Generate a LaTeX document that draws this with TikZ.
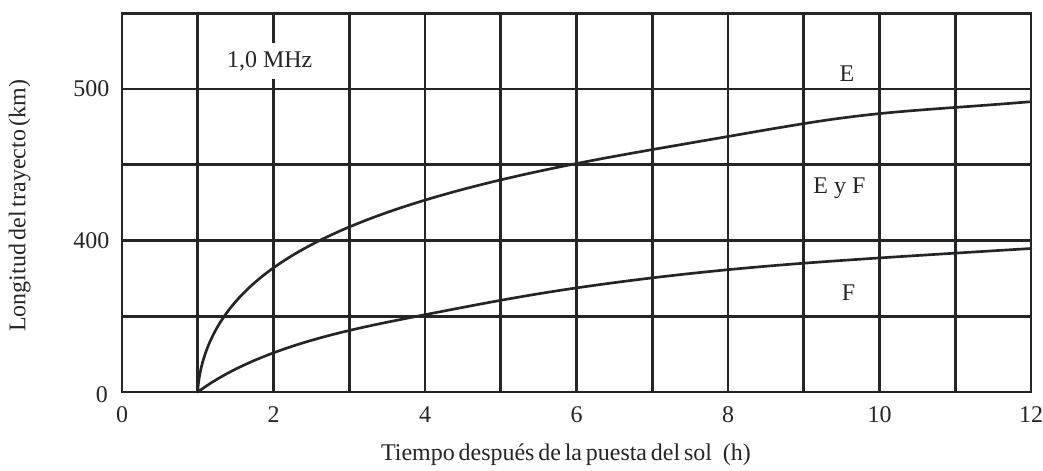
\documentclass[tikz,border=0pt]{standalone}
\usepackage{fontspec}
\setmainfont{Liberation Serif}
\begin{document}
\begin{tikzpicture}[x=1cm,y=1cm,
  font=\fontsize{9pt}{11pt}\selectfont,
  gridline/.style={draw=ink,line width=1pt},
  curveline/.style={draw=ink,line width=1pt,line cap=round,line join=round},
  lbl/.style={text=ink,inner sep=0pt},
  ytick/.style={lbl,anchor=east},
  xtick/.style={lbl,anchor=center},
  tight/.style={lbl,execute at begin node={\spaceskip=0.16em plus 0.05em\relax}}]
\definecolor{ink}{RGB}{35,37,39}
\useasboundingbox (-1.611,-1.030) rectangle (12.158,5.175);
% grid
\draw[gridline] (0,0) grid (12,5);
\draw[gridline] (0,0) rectangle (12,5);
% curve E
\coordinate (start) at (1,0);
\draw[curveline] (start) -- plot[domain=0.01:2.22398,samples=160,variable=\u]
  ({1+\u*\u*\u},{1.891*ln(1+1.38*pow(\u,1.95))+0.065*exp(0-pow((\u*\u*\u-8.7)/1.6,2))});
% curve F
\draw[curveline] (start) -- plot[domain=0:11,samples=120,variable=\t]
  ({1+\t},{0.773*ln(1+0.96*\t)+0.035*exp(0-pow((\t-7)/2.5,2))-0.03*exp(0-pow((\t-3)/1.3,2))});
% labels
\node[lbl,fill=white,inner xsep=2pt,inner ysep=3pt] (freq) at (1.95,4.37) {1,0 MHz};
\node[lbl] (lE) at (9.57,4.2) {E};
\node[lbl] (lEF) at (9.47,2.69) {E y F};
\node[lbl] (lF) at (9.59,1.31) {F};
% y ticks
\node[ytick] (y500) at (-0.16,4.0) {500};
\node[ytick] (y400) at (-0.16,2.0) {400};
\node[ytick] (y0) at (-0.18,-0.04) {0};
% x ticks
\foreach \v in {0,2,4,6,8,10,12}{
  \node[xtick] (x\v) at (\v,-0.30) {\v};
}
% axis titles
\node[tight] (xtitle) at (5.86,-0.83) {Tiempo después de la puesta del sol\hspace{0.45em}(h)};
\node[tight,rotate=90] (ytitle) at (-1.35,2.46) {Longitud del trayecto (km)};
\end{tikzpicture}
\end{document}
